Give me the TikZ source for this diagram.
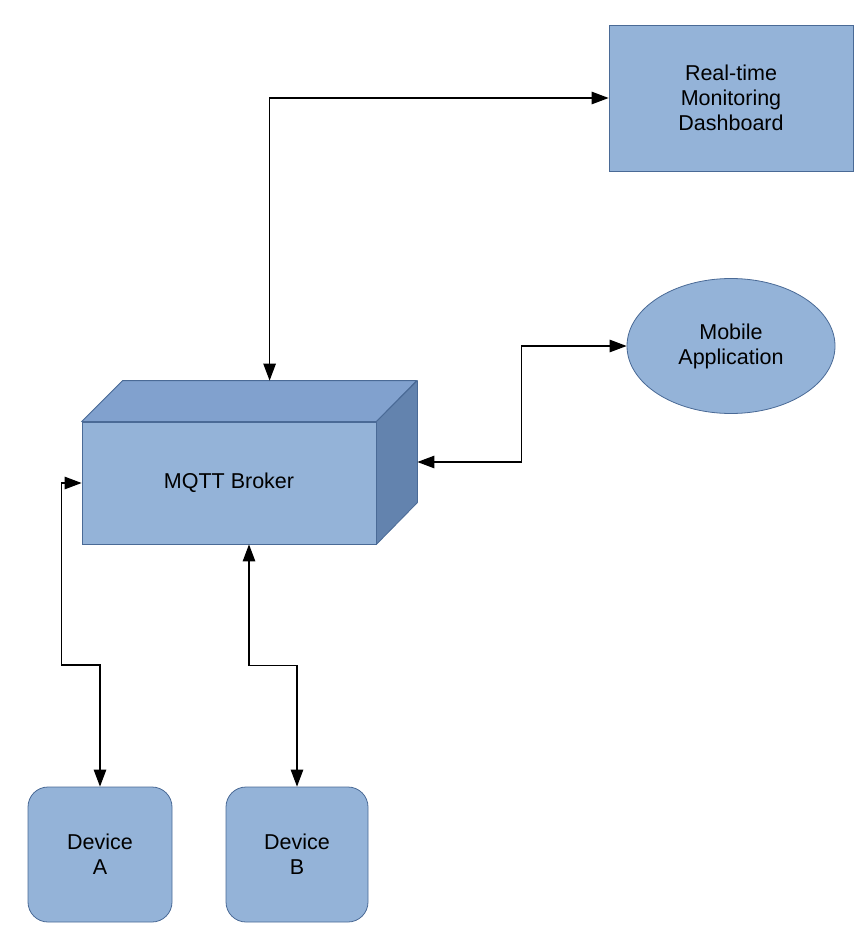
\documentclass[tikz,border=0pt]{standalone}
\usepackage{fontspec}
\setmainfont{Liberation Sans}
\usetikzlibrary{arrows.meta,shapes.geometric,calc}
\definecolor{boxfill}{HTML}{94B3D8}
\definecolor{boxline}{HTML}{4A6A96}
\definecolor{topface}{HTML}{81A1CE}
\definecolor{sideface}{HTML}{6383AE}
\begin{document}
\begin{tikzpicture}[x=1pt,y=-1pt,
  >={Triangle[length=17pt,width=12.5pt]},
  blk/.style={draw=boxline,fill=boxfill,line width=0.8pt,inner sep=0pt,align=center,
    font=\fontsize{21.5}{25}\selectfont},
  conn/.style={draw=black,line width=1.2pt,<->}]
\useasboundingbox (0,0) rectangle (867,952);
% nodes
\node[blk,minimum width=244pt,minimum height=146pt] (dash) at (731,98) {Real-time\\Monitoring\\Dashboard};
\node[blk,ellipse,minimum width=208pt,minimum height=135pt] (mobile) at (731,346) {Mobile\\Application};
\node[blk,rounded corners=20pt,minimum width=144pt,minimum height=135pt] (devA) at (100,854.5) {Device\\A};
\node[blk,rounded corners=20pt,minimum width=142pt,minimum height=135pt] (devB) at (297,854.5) {Device\\B};
\node[blk,minimum width=294pt,minimum height=122pt] (broker) at (229,483) {MQTT Broker};
% cuboid faces
\draw[boxline,fill=topface,line width=0.8pt,line join=round] (broker.north west) -- ++(41,-41) -- ++(294,0) -- (broker.north east) -- cycle;
\draw[boxline,fill=sideface,line width=0.8pt,line join=round] (broker.north east) -- ++(41,-41) -- ++(0,122) -- (broker.south east) -- cycle;
\coordinate (btop) at ($(broker.north west)+(188,-41)$);
\coordinate (bside) at ($(broker.east)+(41,-21)$);
% connectors
\draw[conn] (btop) |- (dash.west);
\draw[conn] (bside) -- ++(104,0) |- (mobile.west);
\draw[conn] (broker.west) -- ++(-20,0) -- ++(0,182) -| (devA.north);
\draw[conn] ([xshift=20pt]broker.south) -- ++(0,121) -| (devB.north);
\end{tikzpicture}
\end{document}
